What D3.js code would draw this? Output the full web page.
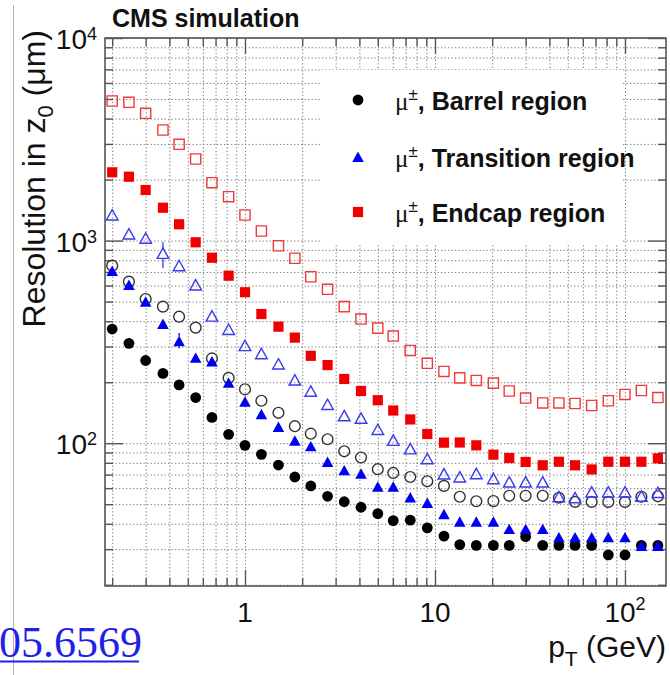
<!DOCTYPE html>
<html>
<head>
<meta charset="utf-8">
<script src="https://cdn.jsdelivr.net/npm/d3@7"></script>
<style>
  html, body { margin: 0; padding: 0; background: #fff; }
  svg { display: block; }
  text { font-family: "Liberation Sans", Arial, Helvetica, sans-serif; }
</style>
</head>
<body>
<svg id="chart" width="670" height="675"></svg>
<script>
// pT bin centres (GeV)
const ptBins = [0.2, 0.245, 0.3, 0.37, 0.45, 0.55, 0.67, 0.82, 1.0, 1.22, 1.5, 1.83, 2.22, 2.72,
  3.33, 4.08, 5.0, 6.03, 7.41, 9.11, 11.15, 13.5, 16.5, 20.3, 24.6, 30.0, 36.9, 44.9, 54.6,
  66.8, 81.7, 100, 122, 149];

// z0 resolution (um) — filled markers
const barrelFilled = [366, 311, 256, 221, 194, 168, 134, 110.6, 97.6, 88.1, 78.0, 68.1, 61.5, 54.7,
  51.4, 48.3, 44.9, 41.5, 41.7, 38.2, 34.8, 31.6, 31.3, 31.3, 31.3, 34.6, 31.3, 31.3, 31.3,
  31.3, 28.1, 28.1, 31.3, 31.3];
const transitionFilled = [708, 604, 499, 388, 319, 264, 253, 198.7, 160.2, 139, 120.2, 102.9, 96.5, 80.8,
  73.5, 70.7, 61.0, 61.0, 54.0, 50.7, 44.6, 41.0, 41.0, 41.0, 37.7, 37.7, 37.7, 34.3, 34.3,
  34.3, 34.3, 34.3, 31.1, 31.1];
const endcapFilled = [2173, 2067, 1777, 1453, 1204, 981, 823, 671, 556, 434, 376, 332, 270, 243,
  207.5, 181, 163, 145, 131, 111, 100.6, 100.8, 97.6, 87.8, 84.5, 80.8, 77.8, 81.0, 77.8,
  74.2, 81.0, 81.0, 81.0, 84.2];

// z0 resolution (um) — open markers
const barrelOpen = [752, 627, 515, 472, 421, 372, 262, 210, 184.5, 162, 141.3, 121.3, 111.4, 104.6,
  91.2, 85.0, 74.4, 71.3, 68.1, 64.9, 61.6, 54.4, 51.7, 51.8, 55.0, 55.0, 55.0, 53.8, 51.3,
  51.3, 51.3, 51.3, 54.4, 54.7];
const transitionOpen = [1338, 1078, 1027, 865, 752, 604, 424, 364, 303, 276.5, 246, 205, 180.4, 155.2,
  136.5, 132.7, 116.8, 103.3, 93.8, 83.8, 70.5, 68.1, 70.7, 66.8, 64.3, 64.3, 64.3, 54.4, 53.8,
  57.4, 57.4, 57.4, 54.7, 57.1];
const endcapOpen = [4887, 4815, 4250, 3515, 2988, 2528, 1931, 1647, 1338, 1115, 943, 818, 663, 575,
  472, 410, 370, 338, 287, 248, 226, 210, 204, 198, 181, 167, 158, 158, 157, 153.5, 162,
  174, 182, 168];

// the few uncertainty bars that stick out of their markers: [series, bin index, low, high]
const errorBars = [["transitionOpen", 3, 730, 981], ["transitionFilled", 4, 294, 350]];

const xMajorTicks = [1, 10, 100];
const xTickLabels = [["1", ""], ["10", ""], ["10", "2"]];
const yMajorTicks = [100, 1000, 10000];
const yTickLabels = [["10", "2"], ["10", "3"], ["10", "4"]];
const legendLabels = ["Barrel region", "Transition region", "Endcap region"];

const svg = d3.select("#chart");
const P = { left: 105, right: 666, top: 38, bottom: 586 };

const x = d3.scaleLog().domain([0.1833, 164.4]).range([P.left, P.right]);
const y = d3.scaleLog().domain([19.73, 10000]).range([P.bottom, P.top]);

// stray page border line and cut-off reference link at the left edge
svg.append("line").attr("x1", 13.5).attr("x2", 13.5).attr("y1", 5).attr("y2", 675)
  .attr("stroke", "#b4b4b4").attr("stroke-width", 1);
svg.append("text").attr("x", -1).attr("y", 657)
  .style("font-family", "'Liberation Serif', 'Times New Roman', serif")
  .attr("font-size", 44).attr("fill", "#1f22e6").text("05.6569");
svg.append("line").attr("x1", 0).attr("x2", 139).attr("y1", 661.5).attr("y2", 661.5)
  .attr("stroke", "#1f22e6").attr("stroke-width", 2);

// dotted grid at every major and minor decade step
const gridStyle = g => {
  g.select(".domain").remove();
  g.selectAll(".tick line").attr("stroke", "#7a7a7a").attr("stroke-width", 1)
    .attr("stroke-dasharray", "1.3,2.2");
};
svg.append("g").attr("transform", `translate(0,${P.bottom})`)
  .call(d3.axisBottom(x).tickValues(x.ticks()).tickSize(-(P.bottom - P.top)).tickFormat(""))
  .call(gridStyle);
svg.append("g").attr("transform", `translate(${P.left},0)`)
  .call(d3.axisLeft(y).tickValues(y.ticks()).tickSize(-(P.right - P.left)).tickFormat(""))
  .call(gridStyle);

// legend panel hides the grid beneath it
svg.append("rect").attr("x", 322).attr("y", 70).attr("width", 301).attr("height", 174)
  .attr("fill", "#fff");

// frame ticks on all four sides, pointing inward
const frameColor = "#555";
const tickStyle = g => {
  g.select(".domain").remove();
  g.selectAll(".tick line").attr("stroke", frameColor).attr("stroke-width", 1.4);
};
const xMinor = x.ticks().filter(v => !xMajorTicks.includes(v));
const yMinor = y.ticks().filter(v => !yMajorTicks.includes(v));
[[d3.axisBottom, P.bottom], [d3.axisTop, P.top]].forEach(([ax, pos]) => {
  svg.append("g").attr("transform", `translate(0,${pos})`)
    .call(ax(x).tickValues(xMinor).tickSize(-8).tickFormat("")).call(tickStyle);
  svg.append("g").attr("transform", `translate(0,${pos})`)
    .call(ax(x).tickValues(xMajorTicks).tickSize(-16).tickFormat("")).call(tickStyle);
});
[[d3.axisLeft, P.left], [d3.axisRight, P.right]].forEach(([ax, pos]) => {
  svg.append("g").attr("transform", `translate(${pos},0)`)
    .call(ax(y).tickValues(yMinor).tickSize(-8).tickFormat("")).call(tickStyle);
  svg.append("g").attr("transform", `translate(${pos},0)`)
    .call(ax(y).tickValues(yMajorTicks).tickSize(-18).tickFormat("")).call(tickStyle);
});
svg.append("rect").attr("x", P.left).attr("y", P.top)
  .attr("width", P.right - P.left).attr("height", P.bottom - P.top)
  .attr("fill", "none").attr("stroke", frameColor).attr("stroke-width", 1.6);

// tick labels with superscript exponents
const labelColor = "#111";
xMajorTicks.forEach((v, i) => {
  const [base, exp] = xTickLabels[i];
  const t = svg.append("text").attr("x", x(v)).attr("y", 622).attr("text-anchor", "middle")
    .attr("font-size", 28).attr("fill", labelColor);
  t.append("tspan").text(base);
  if (exp) t.append("tspan").attr("font-size", 18).attr("dy", -12).text(exp);
});
yMajorTicks.forEach((v, i) => {
  const [base, exp] = yTickLabels[i];
  const t = svg.append("text").attr("x", 97).attr("y", y(v) + 11).attr("text-anchor", "end")
    .attr("font-size", 28).attr("fill", labelColor);
  t.append("tspan").text(base);
  if (exp) t.append("tspan").attr("font-size", 18).attr("dy", -9).text(exp);
});

// titles
svg.append("text").attr("x", 112).attr("y", 27).attr("font-size", 25)
  .attr("font-weight", "bold").attr("fill", "#111").text("CMS simulation");

const yTitle = svg.append("text").attr("transform", "translate(45,30) rotate(-90)")
  .attr("text-anchor", "end").attr("font-size", 32).attr("fill", labelColor);
yTitle.append("tspan").text("Resolution in z");
yTitle.append("tspan").attr("font-size", 22).attr("dy", 8).text("0");
yTitle.append("tspan").attr("dy", -8).text(" (\u03bcm)");

const xTitle = svg.append("text").attr("x", 666).attr("y", 657).attr("text-anchor", "end")
  .attr("font-size", 30).attr("fill", labelColor);
xTitle.append("tspan").text("p");
xTitle.append("tspan").attr("font-size", 21).attr("dy", 9).text("T");
xTitle.append("tspan").attr("dy", -9).text(" (GeV)");

// marker shapes, centred on the data point
const shapes = {
  circle: "M5.4,0A5.4,5.4 0 1,1 -5.4,0A5.4,5.4 0 1,1 5.4,0Z",
  square: "M-5.1,-5.1H5.1V5.1H-5.1Z",
  triangle: "M0,-5.4L5.8,5L-5.8,5Z"
};
const seriesList = [
  { key: "barrelFilled", vals: barrelFilled, shape: "circle", fill: "#000", stroke: "none" },
  { key: "barrelOpen", vals: barrelOpen, shape: "circle", fill: "none", stroke: "#333" },
  { key: "transitionFilled", vals: transitionFilled, shape: "triangle", fill: "#0000f0", stroke: "none" },
  { key: "transitionOpen", vals: transitionOpen, shape: "triangle", fill: "none", stroke: "#3b3bee" },
  { key: "endcapFilled", vals: endcapFilled, shape: "square", fill: "#f00000", stroke: "none" },
  { key: "endcapOpen", vals: endcapOpen, shape: "square", fill: "none", stroke: "#ee3a3a" }
];

const marks = svg.append("g");
seriesList.forEach(s => {
  const bars = errorBars.filter(e => e[0] === s.key);
  bars.forEach(([, i, lo, hi]) => {
    const cx = x(ptBins[i]), cy = y(s.vals[i]);
    const col = s.fill !== "none" ? s.fill : s.stroke;
    marks.append("line").attr("x1", cx).attr("x2", cx).attr("y1", y(hi)).attr("y2", cy - 5)
      .attr("stroke", col).attr("stroke-width", 1.3);
    marks.append("line").attr("x1", cx).attr("x2", cx).attr("y1", cy + 5).attr("y2", y(lo))
      .attr("stroke", col).attr("stroke-width", 1.3);
  });
  marks.append("g").selectAll("path").data(s.vals).join("path")
    .attr("d", shapes[s.shape])
    .attr("transform", (d, i) => `translate(${x(ptBins[i])},${y(d)})`)
    .attr("fill", s.fill).attr("stroke", s.stroke)
    .attr("stroke-width", s.stroke === "none" ? 0 : 1.4);
});

// legend
const legendRows = [
  { shape: "circle", fill: "#000", y: 100 },
  { shape: "triangle", fill: "#0000f0", y: 157 },
  { shape: "square", fill: "#f00000", y: 212 }
];
legendRows.forEach((r, i) => {
  svg.append("path").attr("d", shapes[r.shape])
    .attr("transform", `translate(358,${r.y})`).attr("fill", r.fill);
  const t = svg.append("text").attr("x", 395).attr("y", r.y + 10).attr("font-size", 25)
    .attr("fill", "#111");
  t.append("tspan").style("font-family", "'Liberation Serif', 'Times New Roman', serif")
    .text("\u03bc");
  t.append("tspan").attr("font-size", 17).attr("dy", -10).text("\u00b1");
  t.append("tspan").attr("dy", 10).attr("font-weight", "bold").text(", " + legendLabels[i]);
});
</script>
</body>
</html>
